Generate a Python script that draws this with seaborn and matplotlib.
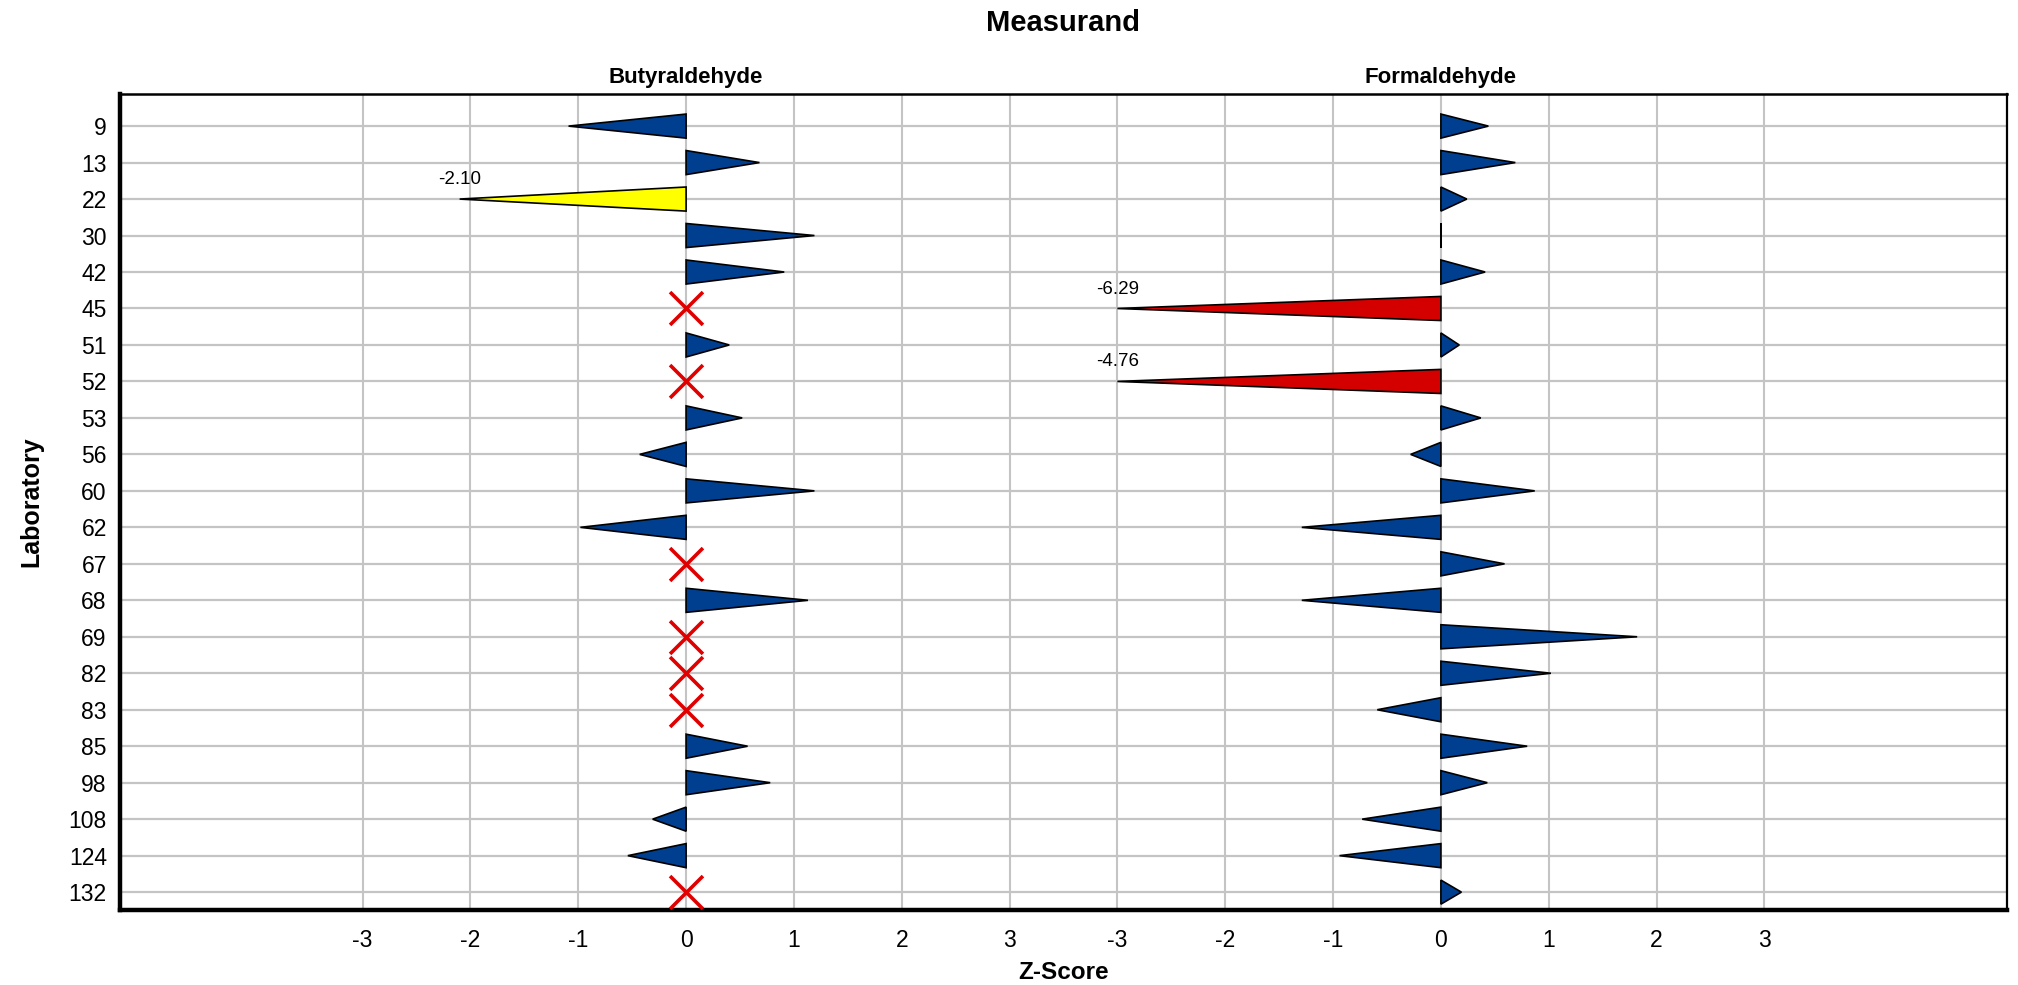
import numpy as np
import pandas as pd
import matplotlib
matplotlib.use("Agg")
import matplotlib.pyplot as plt
import matplotlib.transforms as mtransforms
from matplotlib.patches import Polygon
import seaborn as sns

# Laboratories (top to bottom) and their z-scores per measurand (nan = no result)
labs = [9, 13, 22, 30, 42, 45, 51, 52, 53, 56, 60, 62, 67, 68, 69, 82, 83, 85, 98, 108, 124, 132]
butyraldehyde = [-1.09, 0.68, -2.10, 1.19, 0.91, np.nan, 0.40, np.nan, 0.52, -0.43, 1.19, -0.98,
                 np.nan, 1.13, np.nan, np.nan, np.nan, 0.57, 0.78, -0.31, -0.54, np.nan]
formaldehyde = [0.44, 0.69, 0.24, 0.00, 0.41, -6.29, 0.17, -4.76, 0.37, -0.28, 0.87, -1.29,
                0.59, -1.29, 1.82, 1.02, -0.59, 0.80, 0.43, -0.73, -0.94, 0.19]
measurands = ["Butyraldehyde", "Formaldehyde"]
z_ticks = [-3, -2, -1, 0, 1, 2, 3]

PANEL_STEP = 7.0   # horizontal distance between measurand panels (z units)
CLIP = 3.0         # z-scores beyond +-3 are drawn clipped
HALF_H = 0.33      # half height of each triangle base (rows)

BLUE, YELLOW, RED = "#003f8f", "#ffff00", "#d40000"
GRID = "#c4c4c4"

rows = []
for m_idx, (name, vals) in enumerate(zip(measurands, [butyraldehyde, formaldehyde])):
    for r_idx, (lab, z) in enumerate(zip(labs, vals)):
        rows.append({"measurand": name, "panel": m_idx, "row": r_idx, "lab": lab, "z": z})
df = pd.DataFrame(rows)

sns.set_theme(style="white")
plt.rcParams["font.family"] = ["Liberation Sans", "DejaVu Sans"]
plt.rcParams["text.color"] = "black"
plt.rcParams["axes.labelcolor"] = "black"

fig = plt.figure(figsize=(20.18, 9.85), dpi=100)
ax = fig.add_axes([120 / 2018, 1 - 910 / 985, (2007 - 120) / 2018, (910 - 94) / 985])

# grid: one vertical line per tick in each panel, one horizontal line per lab
xticks = [m * PANEL_STEP + t for m in range(len(measurands)) for t in z_ticks]
for x in xticks:
    ax.axvline(x, color=GRID, lw=1.5, zorder=0)
for r in range(len(labs)):
    ax.axhline(r, color=GRID, lw=1.6, zorder=0)

def colour_for(z):
    a = abs(z)
    if a >= 3:
        return RED
    if a > 2:
        return YELLOW
    return BLUE

valid = df.dropna(subset=["z"])
for _, rec in valid.iterrows():
    base = rec["panel"] * PANEL_STEP
    zc = float(np.clip(rec["z"], -CLIP, CLIP))
    y = rec["row"]
    tri = Polygon([(base, y - HALF_H), (base, y + HALF_H), (base + zc, y)],
                  closed=True, facecolor=colour_for(rec["z"]), edgecolor="black",
                  lw=1.2, zorder=3, joinstyle="miter")
    ax.add_patch(tri)
    if abs(rec["z"]) > 2:
        ax.text(base + zc, y - 0.30, f"{rec['z']:.2f}", ha="center", va="bottom",
                fontsize=13.5, color="black", zorder=4)

# missing results: red cross at zero
missing = df[df["z"].isna()].assign(x=lambda d: d["panel"] * PANEL_STEP)
sns.scatterplot(data=missing, x="x", y="row", marker="x", s=560, color="#e00000",
                linewidth=2.6, ax=ax, zorder=4, legend=False)

ax.set_xlim(-5.25, 12.25)
ax.set_ylim(len(labs) - 0.51, -0.88)

ax.set_xticks(xticks)
ax.set_xticklabels([str(t) for _ in measurands for t in z_ticks])
ax.set_yticks(range(len(labs)))
ax.set_yticklabels([str(l) for l in labs])
ax.tick_params(axis="both", which="both", direction="out", length=4.5, width=1.2,
               color="#9a9a9a", labelsize=16.5, labelcolor="black")
ax.tick_params(axis="x", pad=9)
ax.tick_params(axis="y", pad=5)
ax.set_xlabel("Z-Score", fontsize=17.5, fontweight="bold", labelpad=7)
ax.set_ylabel("Laboratory", fontsize=18, fontweight="bold", labelpad=18)

for side, lw in [("left", 3.2), ("bottom", 3.2), ("top", 1.8), ("right", 1.6)]:
    ax.spines[side].set_visible(True)
    ax.spines[side].set_color("black")
    ax.spines[side].set_linewidth(lw)

# measurand headers above each panel
blend = mtransforms.blended_transform_factory(ax.transData, fig.transFigure)
for m_idx, name in enumerate(measurands):
    ax.text(m_idx * PANEL_STEP, 1 - 77 / 985, name, transform=blend, ha="center",
            va="center", fontsize=16, fontweight="bold")

fig.text(1063 / 2018, 1 - 23 / 985, "Measurand", ha="center", va="center",
         fontsize=21, fontweight="bold")

fig.savefig("out.png", dpi=100)
